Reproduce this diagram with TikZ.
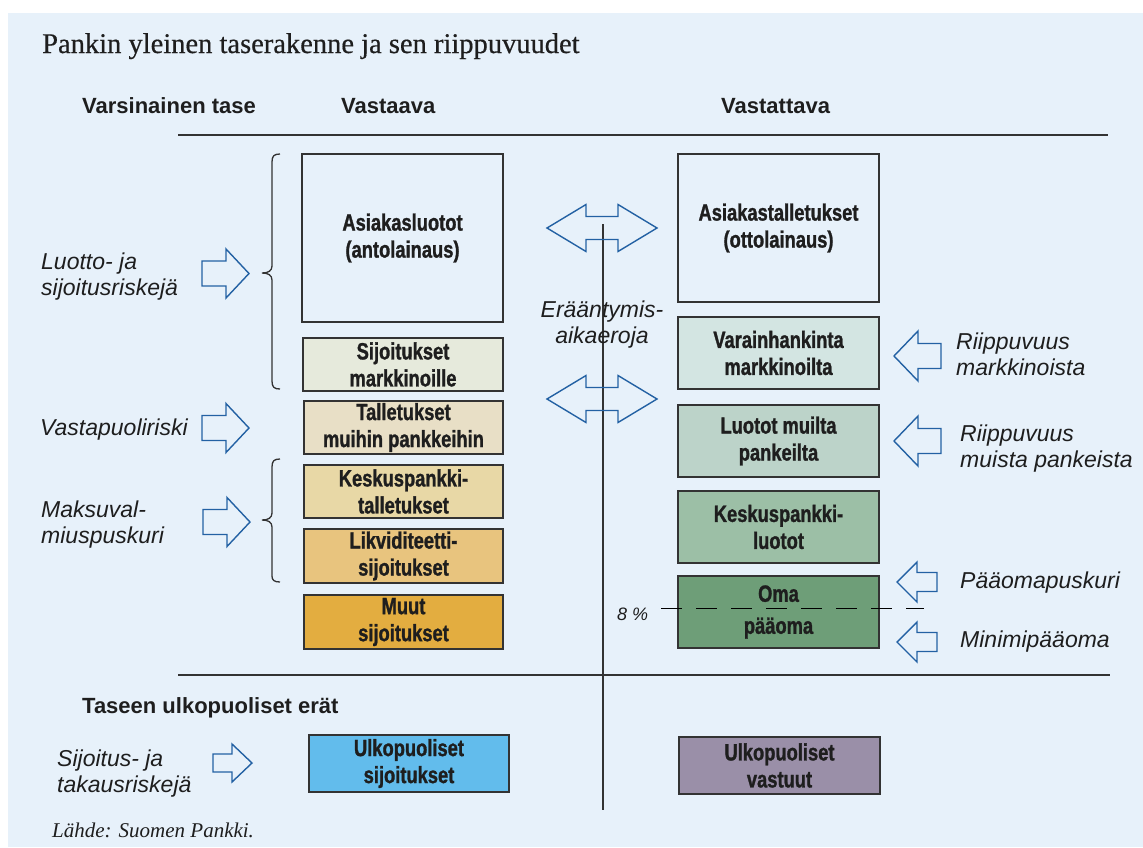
\documentclass[tikz,border=0pt]{standalone}
\usepackage{fontspec}
\setmainfont{Liberation Serif}
\setsansfont{Liberation Sans}
\newfontfamily\boxfont[FakeStretch=0.78, BoldFeatures={FakeBold=1.2}]{Liberation Sans}
\newfontfamily\titlefont[FakeBold=0.5]{Liberation Serif}
\definecolor{panel}{HTML}{E7F1FA}
\definecolor{txt}{HTML}{1E1E1E}
\definecolor{boxline}{HTML}{333333}
\definecolor{arrowblue}{HTML}{2361A3}
\definecolor{rulegrey}{HTML}{333333}
\definecolor{cA}{HTML}{E7F1FA}
\definecolor{cB}{HTML}{E6EADC}
\definecolor{cC}{HTML}{E8DFC6}
\definecolor{cD}{HTML}{E8D8A6}
\definecolor{cE}{HTML}{E8C47E}
\definecolor{cF}{HTML}{E3AD40}
\definecolor{cG}{HTML}{D3E5E2}
\definecolor{cH}{HTML}{BCD3C9}
\definecolor{cI}{HTML}{9CBFA6}
\definecolor{cJ}{HTML}{6E9E78}
\definecolor{cK}{HTML}{62BCEC}
\definecolor{cL}{HTML}{9A8FA8}
\newcommand\blockarrow[6]{% tail, head base, tip, centre y, half height, half body
  \draw[barrow] (#1,{#4-#6}) -- (#2,{#4-#6}) -- (#2,{#4-#5}) -- (#3,#4) -- (#2,{#4+#5}) -- (#2,{#4+#6}) -- (#1,{#4+#6}) -- cycle;}
\newcommand\dblblock[7]{% left tip, left base, right base, right tip, centre y, half height, half body
  \draw[barrow] (#1,#5) -- (#2,{#5-#6}) -- (#2,{#5-#7}) -- (#3,{#5-#7}) -- (#3,{#5-#6}) -- (#4,#5) -- (#3,{#5+#6}) -- (#3,{#5+#7}) -- (#2,{#5+#7}) -- (#2,{#5+#6}) -- cycle;}
\tikzset{
  bx/.style={draw=boxline, line width=1.5pt, inner sep=0pt, align=center, text=txt,
    font=\boxfont\bfseries\fontsize{23.5}{27}\selectfont},
  lbl/.style={font=\sffamily\itshape\fontsize{23}{26}\selectfont, text=txt, inner sep=0pt, align=left},
  hdr/.style={font=\sffamily\bfseries\fontsize{22}{26}\selectfont, text=txt, inner sep=0pt},
  barrow/.style={draw=arrowblue, line width=1.4pt, line join=miter},
  rulel/.style={draw=rulegrey, line width=1.3pt},
  bracel/.style={draw=boxline, line width=1.3pt}
}
\begin{document}
\begin{tikzpicture}[x=1pt,y=-1pt]
\useasboundingbox (0,0) rectangle (1143,847);
\fill[white] (0,0) rectangle (1143,847);
\fill[panel] (8,13) rectangle (1143,847);

% title and headers
\node[anchor=base west, inner sep=0pt, text=txt, font=\titlefont\fontsize{28.5}{32}\selectfont] (title) at (42,53) {Pankin yleinen taserakenne ja sen riippuvuudet};
\node[hdr, anchor=base west] (hvars) at (82,113) {Varsinainen tase};
\node[hdr, anchor=base west] (hvaa) at (341,113) {Vastaava};
\node[hdr, anchor=base west] (hvat) at (721,113) {Vastattava};
\node[hdr, anchor=base west] (hulk) at (82,713) {Taseen ulkopuoliset erät};
\node[anchor=base west, inner sep=0pt, text=txt, font=\rmfamily\itshape\fontsize{21}{25}\selectfont] (src) at (52,837) {Lähde: Suomen Pankki.};

% rules
\coordinate (r1a) at (178,135); \coordinate (r1b) at (1108,135);
\coordinate (r2a) at (178,675); \coordinate (r2b) at (1110,675);
\draw[rulel] (r1a) -- (r1b);
\draw[rulel] (r2a) -- (r2b);
\coordinate (vtop) at (603,224); \coordinate (vbot) at (603,810);
\draw[rulel] (vtop) -- (vbot);

% left column boxes
\node[bx, fill=cA, minimum width=201pt, minimum height=168pt] (L1) at (402.5,238) {Asiakasluotot\\(antolainaus)};
\node[bx, fill=cB, minimum width=200pt, minimum height=53pt] (L2) at (403,364.5) {Sijoitukset\\markkinoille};
\node[bx, fill=cC, minimum width=199pt, minimum height=53pt] (L3) at (403.5,427.5) {Talletukset\\muihin pankkeihin};
\node[bx, fill=cD, minimum width=199pt, minimum height=53pt] (L4) at (403.5,491.5) {Keskuspankki-\\talletukset};
\node[bx, fill=cE, minimum width=199pt, minimum height=54pt] (L5) at (403.5,556) {Likviditeetti-\\sijoitukset};
\node[bx, fill=cF, minimum width=199pt, minimum height=54pt] (L6) at (403.5,622) {Muut\\sijoitukset};

% right column boxes
\node[bx, fill=cA, minimum width=201pt, minimum height=148pt] (R1) at (778.5,228) {Asiakastalletukset\\(ottolainaus)};
\node[bx, fill=cG, minimum width=201pt, minimum height=72pt] (R2) at (778.5,353) {Varainhankinta\\markkinoilta};
\node[bx, fill=cH, minimum width=201pt, minimum height=72pt] (R3) at (778.5,441) {Luotot muilta\\pankeilta};
\node[bx, fill=cI, minimum width=201pt, minimum height=72pt] (R4) at (778.5,527) {Keskuspankki-\\luotot};
\node[bx, fill=cJ, minimum width=201pt, minimum height=72pt] (R5) at (778.5,612) {Oma\\[5pt]pääoma};

% off-balance boxes
\node[bx, fill=cK, minimum width=200pt, minimum height=57pt] (O1) at (409,763.5) {Ulkopuoliset\\sijoitukset};
\node[bx, fill=cL, minimum width=201pt, minimum height=57pt] (O2) at (779.5,765.5) {Ulkopuoliset\\vastuut};

% 8 % line
\coordinate (da) at (661,608); \coordinate (db) at (924,608);
\draw[black, line width=1pt, dash pattern=on 21pt off 14pt] (da) -- (db);
\node[anchor=base west, inner sep=0pt, text=txt, font=\sffamily\itshape\fontsize{18}{22}\selectfont] (pct) at (617,620) {8 \%};

% braces
\draw[bracel] (280,154) .. controls (274,154) and (272,156) .. (272,162) -- (272,266)
  .. controls (272,271) and (268,273) .. (262,273) .. controls (268,273) and (272,275) .. (272,280)
  -- (272,381) .. controls (272,387) and (274,389) .. (280,389);
\draw[bracel] (280,459) .. controls (274,459) and (272,461) .. (272,467) -- (272,513)
  .. controls (272,518) and (268,520) .. (262,520) .. controls (268,520) and (272,522) .. (272,527)
  -- (272,576) .. controls (272,580) and (274,582) .. (280,582);

% block arrows left
\blockarrow{202}{226}{249}{273.5}{24.5}{12.5}
\blockarrow{202}{226}{249}{428}{24.5}{12.5}
\blockarrow{203}{227}{250}{522}{24.5}{12.5}
\blockarrow{213}{232}{252}{763}{19}{9}
% block arrows right (pointing left)
\blockarrow{941}{918}{894}{356}{25}{12.5}
\blockarrow{941}{918}{894}{441}{25}{12.5}
\blockarrow{937}{917}{897}{582}{20}{9.5}
\blockarrow{937}{917}{897}{642}{20}{9.5}
% double arrows
\dblblock{547}{586}{618}{657}{228}{23.5}{11.5}
\dblblock{547}{586}{618}{657}{399}{23.5}{11.5}

% labels (base anchor = baseline of the last line)
\node[lbl, anchor=base west] (la) at (41,295) {Luotto- ja\\sijoitusriskejä};
\node[lbl, anchor=base west] (lb) at (40,435) {Vastapuoliriski};
\node[lbl, anchor=base west] (lc) at (41,543) {Maksuval-\\miuspuskuri};
\node[lbl, anchor=base west] (ld) at (956,375) {Riippuvuus\\markkinoista};
\node[lbl, anchor=base west] (le) at (960,467) {Riippuvuus\\muista pankeista};
\node[lbl, anchor=base west] (lf) at (960,588) {Pääomapuskuri};
\node[lbl, anchor=base west] (lg) at (960,647) {Minimipääoma};
\node[lbl, anchor=base west] (lh) at (57,792) {Sijoitus- ja\\takausriskejä};
\node[lbl, anchor=base, align=center] (li) at (602,343) {Erääntymis-\\aikaeroja};
\end{tikzpicture}
\end{document}
